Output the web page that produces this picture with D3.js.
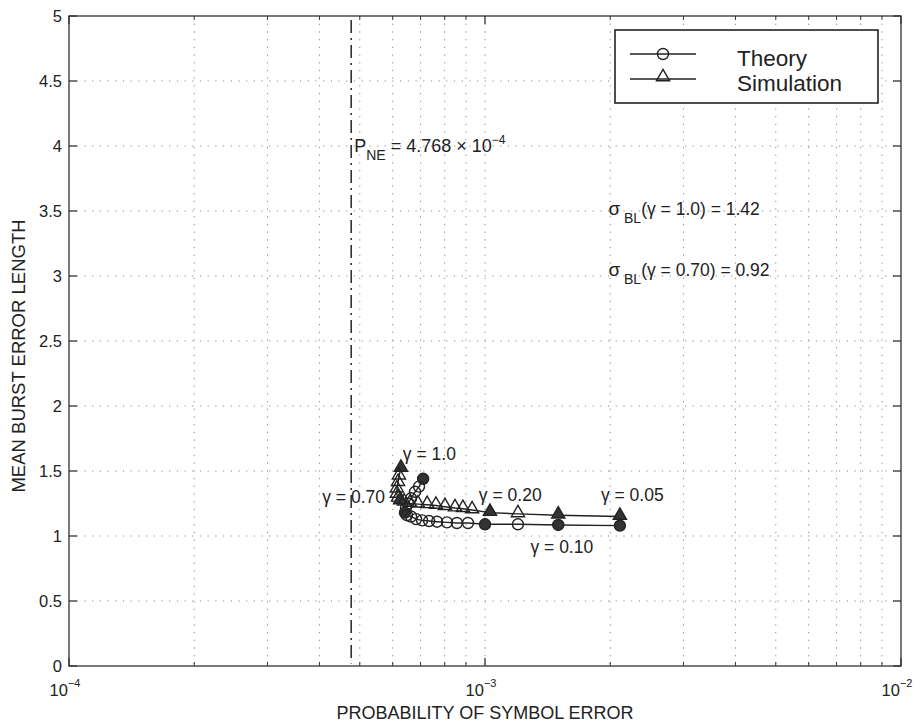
<!DOCTYPE html>
<html>
<head>
<meta charset="utf-8">
<script src="https://cdn.jsdelivr.net/npm/d3@7"></script>
<style>
  body { margin: 0; background: #fff; }
  text { font-family: "Liberation Sans", Arial, sans-serif; fill: #222; }
</style>
</head>
<body>
<script>
// gamma values along each curve (1.0 -> 0.05)
const gammas = [1.0, 0.95, 0.9, 0.85, 0.8, 0.75, 0.7, 0.65, 0.6, 0.55, 0.5, 0.45, 0.4, 0.35, 0.3, 0.25, 0.2, 0.15, 0.1, 0.05];
const labelledGammas = [1.0, 0.7, 0.2, 0.1, 0.05];

// theory: probability of symbol error / mean burst error length
const theoryP = [7.10e-4, 6.94e-4, 6.79e-4, 6.64e-4, 6.53e-4, 6.46e-4, 6.42e-4, 6.49e-4, 6.64e-4, 6.83e-4,
                 7.06e-4, 7.34e-4, 7.67e-4, 8.10e-4, 8.56e-4, 9.10e-4, 1.0e-3, 1.2e-3, 1.5e-3, 2.11e-3];
const theoryL = [1.44, 1.38, 1.34, 1.29, 1.25, 1.22, 1.18, 1.16, 1.15, 1.13,
                 1.12, 1.115, 1.11, 1.105, 1.10, 1.10, 1.09, 1.09, 1.085, 1.08];

// simulation
const simP = [6.28e-4, 6.21e-4, 6.18e-4, 6.14e-4, 6.14e-4, 6.18e-4, 6.25e-4, 6.39e-4, 6.60e-4, 6.90e-4,
              7.26e-4, 7.62e-4, 8.01e-4, 8.47e-4, 8.85e-4, 9.31e-4, 1.028e-3, 1.2e-3, 1.5e-3, 2.11e-3];
const simL = [1.52, 1.46, 1.41, 1.36, 1.32, 1.29, 1.27, 1.26, 1.25, 1.245,
              1.24, 1.235, 1.225, 1.215, 1.21, 1.2, 1.18, 1.17, 1.16, 1.15];

const pNE = 4.768e-4;
const yTicks = [0, 0.5, 1, 1.5, 2, 2.5, 3, 3.5, 4, 4.5, 5];
const xDecades = [-4, -3, -2];

const gammaLabels = [
  {g: 1.0, text: 'γ = 1.0', p: 7.35e-4, L: 1.585, anchor: 'middle'},
  {g: 0.7, text: 'γ = 0.70', p: 5.75e-4, L: 1.255, anchor: 'end'},
  {g: 0.2, text: 'γ = 0.20', p: 1.15e-3, L: 1.27, anchor: 'middle'},
  {g: 0.05, text: 'γ = 0.05', p: 2.26e-3, L: 1.27, anchor: 'middle'},
  {g: 0.1, text: 'γ = 0.10', p: 1.53e-3, L: 0.87, anchor: 'middle'}
];

let margin = {left: 69, top: 16};
let width = 832;
let height = 650;

let x = d3.scaleLog().domain([1e-4, 1e-2]).range([0, width]);
let y = d3.scaleLinear().domain([0, 5]).range([height, 0]);

let svg = d3.select('body').append('svg')
            .attr('width', 917)
            .attr('height', 723);

let g = svg.append('g').attr('transform', 'translate(' + margin.left + ',' + margin.top + ')');

// minor positions on the log axis
let minor = [];
xDecades.slice(0, 2).forEach((d) => {
  for (let k = 2; k <= 9; k++) minor.push(k * Math.pow(10, d));
});
let majors = xDecades.map((d) => Math.pow(10, d));

// grid
g.selectAll('line.vgrid')
  .data(minor.concat([1e-3]))
  .enter().append('line')
  .attr('class', 'vgrid')
  .attr('x1', (d) => x(d)).attr('x2', (d) => x(d))
  .attr('y1', 0).attr('y2', height)
  .attr('stroke', '#8a8a8a').attr('stroke-width', 1)
  .attr('stroke-dasharray', '1.2,6.5');

g.selectAll('line.hgrid')
  .data(yTicks.slice(1, -1))
  .enter().append('line')
  .attr('class', 'hgrid')
  .attr('x1', 0).attr('x2', width)
  .attr('y1', (d) => y(d)).attr('y2', (d) => y(d))
  .attr('stroke', '#8a8a8a').attr('stroke-width', 1)
  .attr('stroke-dasharray', '1.2,6.5');

// frame
g.append('rect')
  .attr('width', width).attr('height', height)
  .attr('fill', 'none').attr('stroke', '#333').attr('stroke-width', 1.3);

// y ticks (inside, both sides)
yTicks.forEach((t) => {
  g.append('line').attr('x1', 0).attr('x2', 8).attr('y1', y(t)).attr('y2', y(t)).attr('stroke', '#333').attr('stroke-width', 1.3);
  g.append('line').attr('x1', width - 8).attr('x2', width).attr('y1', y(t)).attr('y2', y(t)).attr('stroke', '#333').attr('stroke-width', 1.3);
  g.append('text')
    .attr('x', -7).attr('y', y(t) + 6)
    .attr('text-anchor', 'end')
    .style('font-size', '16.5px')
    .text(d3.format('~g')(t));
});

// x ticks (inside, top and bottom)
majors.forEach((t) => {
  g.append('line').attr('x1', x(t)).attr('x2', x(t)).attr('y1', height).attr('y2', height - 8).attr('stroke', '#333').attr('stroke-width', 1.3);
  g.append('line').attr('x1', x(t)).attr('x2', x(t)).attr('y1', 0).attr('y2', 8).attr('stroke', '#333').attr('stroke-width', 1.3);
});
minor.forEach((t) => {
  g.append('line').attr('x1', x(t)).attr('x2', x(t)).attr('y1', height).attr('y2', height - 4).attr('stroke', '#333').attr('stroke-width', 1);
  g.append('line').attr('x1', x(t)).attr('x2', x(t)).attr('y1', 0).attr('y2', 4).attr('stroke', '#333').attr('stroke-width', 1);
});
xDecades.forEach((d) => {
  let t = g.append('text')
    .attr('x', x(Math.pow(10, d)) - 4).attr('y', height + 30)
    .attr('text-anchor', 'middle')
    .style('font-size', '16.5px');
  t.append('tspan').text('10');
  t.append('tspan').attr('dy', -9).style('font-size', '11px').text('−' + Math.abs(d));
});

// axis titles
g.append('text')
  .attr('x', x(1e-3)).attr('y', height + 53)
  .attr('text-anchor', 'middle')
  .style('font-size', '18px')
  .text('PROBABILITY OF SYMBOL ERROR');
g.append('text')
  .attr('transform', 'translate(-44,' + (height / 2 + 15) + ') rotate(-90)')
  .attr('text-anchor', 'middle')
  .style('font-size', '18.5px')
  .text('MEAN BURST ERROR LENGTH');

// P_NE dash-dot line
g.append('line')
  .attr('x1', x(pNE)).attr('x2', x(pNE))
  .attr('y1', y(4.97)).attr('y2', y(0.02))
  .attr('stroke', '#333').attr('stroke-width', 1.6)
  .attr('stroke-dasharray', '13,5,2,5');

let pt = g.append('text').attr('x', x(pNE) + 3).attr('y', y(4.0) + 6).style('font-size', '18px');
pt.append('tspan').text('P');
pt.append('tspan').attr('dy', 8).style('font-size', '14px').text('NE');
pt.append('tspan').attr('dy', -8).text(' = 4.768 × 10');
pt.append('tspan').attr('dy', -8).style('font-size', '12px').text('−4');

function sigmaText(gv, val, L) {
  let s = g.append('text').attr('x', x(1.98e-3)).attr('y', y(L)).style('font-size', '17.5px');
  s.append('tspan').style('font-size', '19px').text('σ');
  s.append('tspan').attr('dy', 8).style('font-size', '14px').text(' BL');
  s.append('tspan').attr('dy', -8).text('(γ = ' + gv + ') = ' + val);
}
sigmaText('1.0', '1.42', 3.47);
sigmaText('0.70', '0.92', 3.0);

// curves
let theory = gammas.map((gm, i) => ({g: gm, p: theoryP[i], L: theoryL[i]}));
let sim = gammas.map((gm, i) => ({g: gm, p: simP[i], L: simL[i]}));

let line = d3.line().x((d) => x(d.p)).y((d) => y(d.L));

g.append('path').datum(theory).attr('d', line)
  .attr('fill', 'none').attr('stroke', '#222').attr('stroke-width', 1.4);
g.append('path').datum(sim).attr('d', line)
  .attr('fill', 'none').attr('stroke', '#222').attr('stroke-width', 1.4);

let tri = d3.symbol().type(d3.symbolTriangle).size(75);

g.selectAll('circle.theory')
  .data(theory)
  .enter().append('circle')
  .attr('class', 'theory')
  .attr('cx', (d) => x(d.p)).attr('cy', (d) => y(d.L))
  .attr('r', 5.5)
  .attr('fill', (d) => labelledGammas.includes(d.g) ? '#333' : 'none')
  .attr('stroke', '#222').attr('stroke-width', 1.4);

g.selectAll('path.sim')
  .data(sim)
  .enter().append('path')
  .attr('class', 'sim')
  .attr('d', tri)
  .attr('transform', (d) => 'translate(' + x(d.p) + ',' + (y(d.L) - 1) + ')')
  .attr('fill', (d) => labelledGammas.includes(d.g) ? '#333' : 'none')
  .attr('stroke', '#222').attr('stroke-width', 1.4);

// gamma labels
g.selectAll('text.glabel')
  .data(gammaLabels)
  .enter().append('text')
  .attr('class', 'glabel')
  .attr('x', (d) => x(d.p)).attr('y', (d) => y(d.L))
  .attr('text-anchor', (d) => d.anchor)
  .style('font-size', '17.5px')
  .text((d) => d.text);

// legend
let lg = svg.append('g').attr('transform', 'translate(615,30)');
lg.append('rect').attr('width', 263).attr('height', 73)
  .attr('fill', '#fff').attr('stroke', '#222').attr('stroke-width', 1.6);
[{name: 'Theory', yy: 24}, {name: 'Simulation', yy: 49}].forEach((item, i) => {
  lg.append('line').attr('x1', 15).attr('x2', 81).attr('y1', item.yy).attr('y2', item.yy)
    .attr('stroke', '#222').attr('stroke-width', 1.4);
  if (i === 0) {
    lg.append('circle').attr('cx', 48).attr('cy', item.yy).attr('r', 5.5)
      .attr('fill', 'none').attr('stroke', '#222').attr('stroke-width', 1.4);
  } else {
    lg.append('path').attr('d', tri).attr('transform', 'translate(48,' + (item.yy - 2) + ')')
      .attr('fill', 'none').attr('stroke', '#222').attr('stroke-width', 1.4);
  }
  lg.append('text').attr('x', 122).attr('y', item.yy + 12)
    .style('font-size', '22.5px')
    .text(item.name);
});
</script>
</body>
</html>
